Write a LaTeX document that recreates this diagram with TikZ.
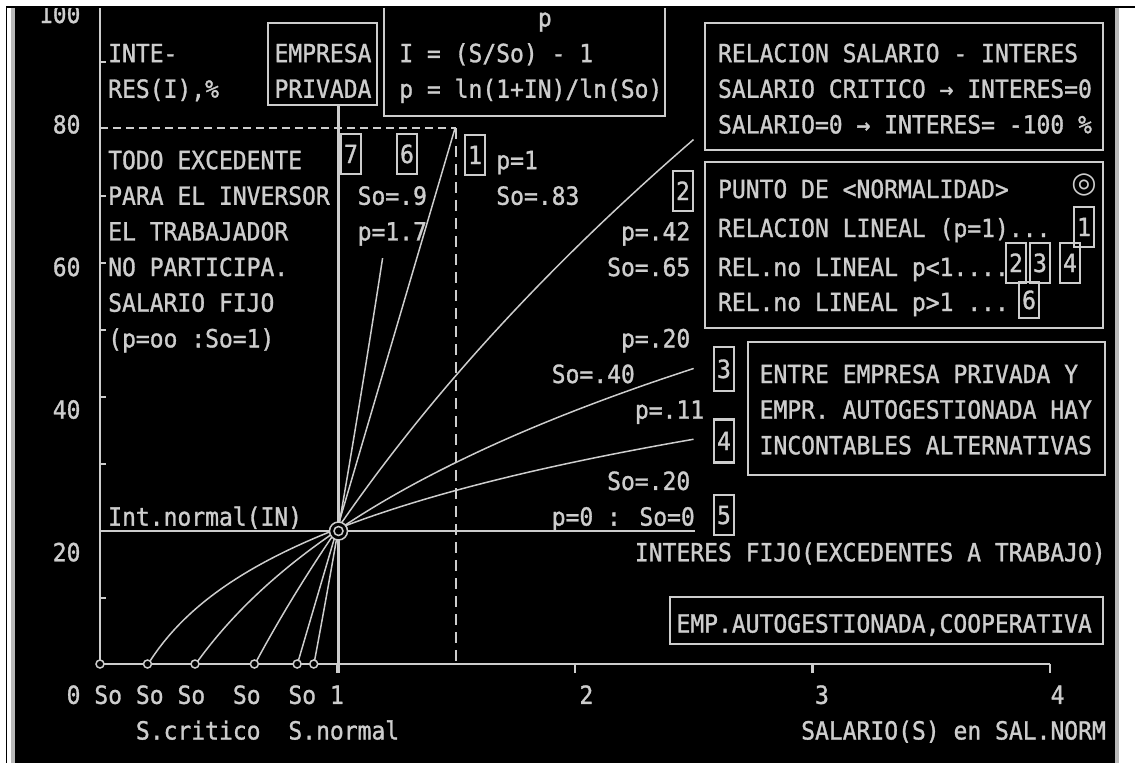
\documentclass[tikz,border=0pt]{standalone}
\usepackage{fontspec}
\newfontfamily\dosfont[FakeStretch=0.92,FakeBold=1.2]{DejaVu Sans Mono}
\newfontfamily\dossym{DejaVu Sans}
\definecolor{fg}{RGB}{205,205,205}
\definecolor{edge}{RGB}{185,185,185}
\newcommand{\gx}[1]{(11+13.86*(#1))}
\newcommand{\gy}[1]{(17.5+35.65*(#1))}
\begin{document}
\begin{tikzpicture}[x=1pt,y=-1pt,
  lbl/.style={anchor=west, inner sep=0pt, text=fg, font=\dosfont\fontsize{25}{30}\selectfont, text height=18pt, text depth=0pt},
  bnum/.style={draw=fg, line width=2.2pt, inner sep=0pt, text=fg, font=\dosfont\fontsize{25}{30}\selectfont, text height=18pt, text depth=0pt, minimum width=20pt, minimum height=40pt},
  axisline/.style={draw=fg, line width=2.4pt},
  frameline/.style={draw=fg, line width=2.4pt},
  curveline/.style={draw=fg, line width=1.5pt},
  dashh/.style={draw=fg, line width=2pt, dash pattern=on 8pt off 5pt},
  dashv/.style={draw=fg, line width=2.8pt, dash pattern=on 11pt off 7pt}]
\useasboundingbox (0,0) rectangle (1135,763);
% background
\fill[white] (0,0) rectangle (1135,763);
\fill[black] (14,6) rectangle (1115,763);
\fill[edge] (11,6) rectangle (14.5,763);
\fill[edge] (1115,6) rectangle (1119,763);
\fill[black] (6,6) rectangle (7.3,763);

% axes
\draw[axisline] (100,6) -- (100,664) -- (1050,664);
\foreach \s in {1,2,3,4} \draw[axisline] ({100+237.5*\s},664) -- ({100+237.5*\s},673);
\foreach \i in {10,30,40,50,60,70,90} \draw[axisline] (100,{665-6.7*\i}) -- (106,{665-6.7*\i});
% interest normal line (curve 5) and fixed salary line (curve 7)
\draw[axisline] (100,531) -- (695,531);
\draw[axisline] (338.5,105) -- (338.5,673);
% dashed lines
\draw[dashh] (100,128) -- (456,128);
\draw[dashv] (456,128) -- (456,664);

% curves
\draw[curveline] (297.1,665) -- (454.8,129);
\draw[curveline] plot[domain=0.9:1.19,samples=40] ({100+237.5*\x},{665-670*(exp(1.7*ln(\x/0.9))-1)});
\draw[curveline] plot[domain=0.65:2.5,samples=100] ({100+237.5*\x},{665-670*(exp(0.43*ln(\x/0.65))-1)});
\draw[curveline] plot[domain=0.4:2.5,samples=100] ({100+237.5*\x},{665-670*(exp(0.2*ln(\x/0.4))-1)});
\draw[curveline] plot[domain=0.2:2.5,samples=100] ({100+237.5*\x},{665-670*(exp(0.115*ln(\x/0.2))-1)});
% markers
\foreach \s in {0,0.2,0.4,0.65,0.83,0.9} \filldraw[curveline, fill=black] ({100+237.5*\s},664) circle[radius=4];
\filldraw[curveline, fill=black] (338.5,531) circle[radius=9];
\draw[curveline] (338.5,531) circle[radius=4.5];

% y labels
\node[lbl] (y100) at ({\gx{2}},14) {100};
\node[lbl] (y80) at ({\gx{3}},{\gy{3}}) {80};
\node[lbl] (y60) at ({\gx{3}},{\gy{7}}) {60};
\node[lbl] (y40) at ({\gx{3}},{\gy{11}}) {40};
\node[lbl] (y20) at ({\gx{3}},{\gy{15}}) {20};

% left texts
\node[lbl] (inte) at ({\gx{7}},{\gy{1}}) {INTE-};
\node[lbl] (res) at ({\gx{7}},{\gy{2}}) {RES(I),\%};
\node[lbl] (todo) at ({\gx{7}},{\gy{4}}) {TODO EXCEDENTE};
\node[lbl] (para) at ({\gx{7}},{\gy{5}}) {PARA EL INVERSOR};
\node[lbl] (eltrab) at ({\gx{7}},{\gy{6}}) {EL TRABAJADOR};
\node[lbl] (nopart) at ({\gx{7}},{\gy{7}}) {NO PARTICIPA.};
\node[lbl] (salfijo) at ({\gx{7}},{\gy{8}}) {SALARIO FIJO};
\node[lbl] (pinf) at ({\gx{7}},{\gy{9}}) {(p=oo :So=1)};
\node[lbl] (intn) at ({\gx{7}},{\gy{14}}) {Int.normal(IN)};

% EMPRESA PRIVADA box
\node[lbl] (emp1) at ({\gx{19}},{\gy{1}}) {EMPRESA};
\node[lbl] (emp2) at ({\gx{19}},{\gy{2}}) {PRIVADA};
\draw[frameline] (268,23) rectangle (377,105);

% formula box
\draw[frameline] (384,-10) rectangle (665,116);
\node[lbl] (fp) at ({\gx{38}},{\gy{0}}) {p};
\node[lbl] (f1) at ({\gx{28}},{\gy{1}}) {I = (S/So) - 1};
\node[lbl] (f2) at ({\gx{28}},{\gy{2}}) {p = ln(1+IN)/ln(So)};

% right box 1
\draw[frameline] (705,23) rectangle (1103,150);
\node[lbl] (r1) at ({\gx{51}},{\gy{1}}) {RELACION SALARIO - INTERES};
\node[lbl] (r2) at ({\gx{51}},{\gy{2}}) {SALARIO CRITICO → INTERES=0};
\node[lbl] (r3) at ({\gx{51}},{\gy{3}}) {SALARIO=0 → INTERES= -100 \%};

% right box 2
\draw[frameline] (705,162) rectangle (1103,328);
\node[lbl] (q1) at ({\gx{51}},189) {PUNTO DE <NORMALIDAD>};
\node[text=fg, inner sep=0pt, font=\dossym\bfseries\fontsize{29}{32}\selectfont] (qsym) at (1084,185) {◎};
\node[lbl] (q2) at ({\gx{51}},228) {RELACION LINEAL (p=1)...};
\node[bnum] (qb1) at (1084,227) {1};
\node[lbl] (q3) at ({\gx{51}},267) {REL.no LINEAL p<1....};
\node[bnum] (qb2) at (1016,263) {2};
\node[bnum] (qb3) at (1040,263) {3};
\node[bnum] (qb4) at (1070,263) {4};
\node[lbl] (q4) at ({\gx{51}},302) {REL.no LINEAL p>1 ...};
\node[bnum, minimum height=36pt] (qb6) at (1029,300) {6};

% right box 3
\draw[frameline] (748,342) rectangle (1105,475);
\node[lbl] (e1) at ({\gx{54}},{\gy{10}}) {ENTRE EMPRESA PRIVADA Y};
\node[lbl] (e2) at ({\gx{54}},{\gy{11}}) {EMPR. AUTOGESTIONADA HAY};
\node[lbl] (e3) at ({\gx{54}},{\gy{12}}) {INCONTABLES ALTERNATIVAS};

% curve labels
\node[bnum] (c7) at (351,154) {7};
\node[bnum] (c6) at (407,154) {6};
\node[bnum] (c1) at (475,155) {1};
\node[lbl] (so9) at ({\gx{25}},{\gy{5}}) {So=.9};
\node[lbl] (p17) at ({\gx{25}},{\gy{6}}) {p=1.7};
\node[lbl] (p1) at ({\gx{35}},{\gy{4}}) {p=1};
\node[lbl] (so83) at ({\gx{35}},{\gy{5}}) {So=.83};
\node[bnum] (c2) at (683,191) {2};
\node[lbl] (p42) at ({\gx{44}},{\gy{6}}) {p=.42};
\node[lbl] (so65) at ({\gx{43}},{\gy{7}}) {So=.65};
\node[lbl] (p20) at ({\gx{44}},{\gy{9}}) {p=.20};
\node[lbl] (so40) at ({\gx{39}},{\gy{10}}) {So=.40};
\node[bnum, minimum height=44pt] (c3) at (724,369) {3};
\node[lbl] (p11) at ({\gx{45}},{\gy{11}}) {p=.11};
\node[bnum, minimum height=43pt] (c4) at (724,441) {4};
\node[lbl] (so20) at ({\gx{43}},{\gy{13}}) {So=.20};
\node[lbl] (p0) at ({\gx{39}},{\gy{14}}) {p=0 : So=0};
\node[bnum] (c5) at (724,515) {5};
\node[lbl] (fijo) at ({\gx{45}},{\gy{15}}) {INTERES FIJO(EXCEDENTES A TRABAJO)};
\node[lbl] (coop) at ({\gx{48}},{\gy{17}}) {EMP.AUTOGESTIONADA,COOPERATIVA};
\draw[frameline] (670,597) rectangle (1103,644);

% x labels
\node[lbl] (x0) at ({\gx{4}},{\gy{19}}) {0};
\node[lbl] (xs1) at ({\gx{6}},{\gy{19}}) {So};
\node[lbl] (xs2) at ({\gx{9}},{\gy{19}}) {So};
\node[lbl] (xs3) at ({\gx{12}},{\gy{19}}) {So};
\node[lbl] (xs4) at ({\gx{16}},{\gy{19}}) {So};
\node[lbl] (xs5) at ({\gx{20}},{\gy{19}}) {So};
\node[lbl] (x1) at ({\gx{23}},{\gy{19}}) {1};
\node[lbl] (x2) at ({\gx{41}},{\gy{19}}) {2};
\node[lbl] (x3) at ({\gx{58}},{\gy{19}}) {3};
\node[lbl] (x4) at ({\gx{75}},{\gy{19}}) {4};
\node[lbl] (scrit) at ({\gx{9}},{\gy{20}}) {S.critico};
\node[lbl] (snorm) at ({\gx{20}},{\gy{20}}) {S.normal};
\node[lbl] (xtitle) at ({\gx{57}},{\gy{20}}) {SALARIO(S) en SAL.NORM};

% top margin
\fill[white] (0,0) rectangle (1135,5.5);
\fill[black] (6,5.5) rectangle (1135,8);
\end{tikzpicture}
\end{document}
